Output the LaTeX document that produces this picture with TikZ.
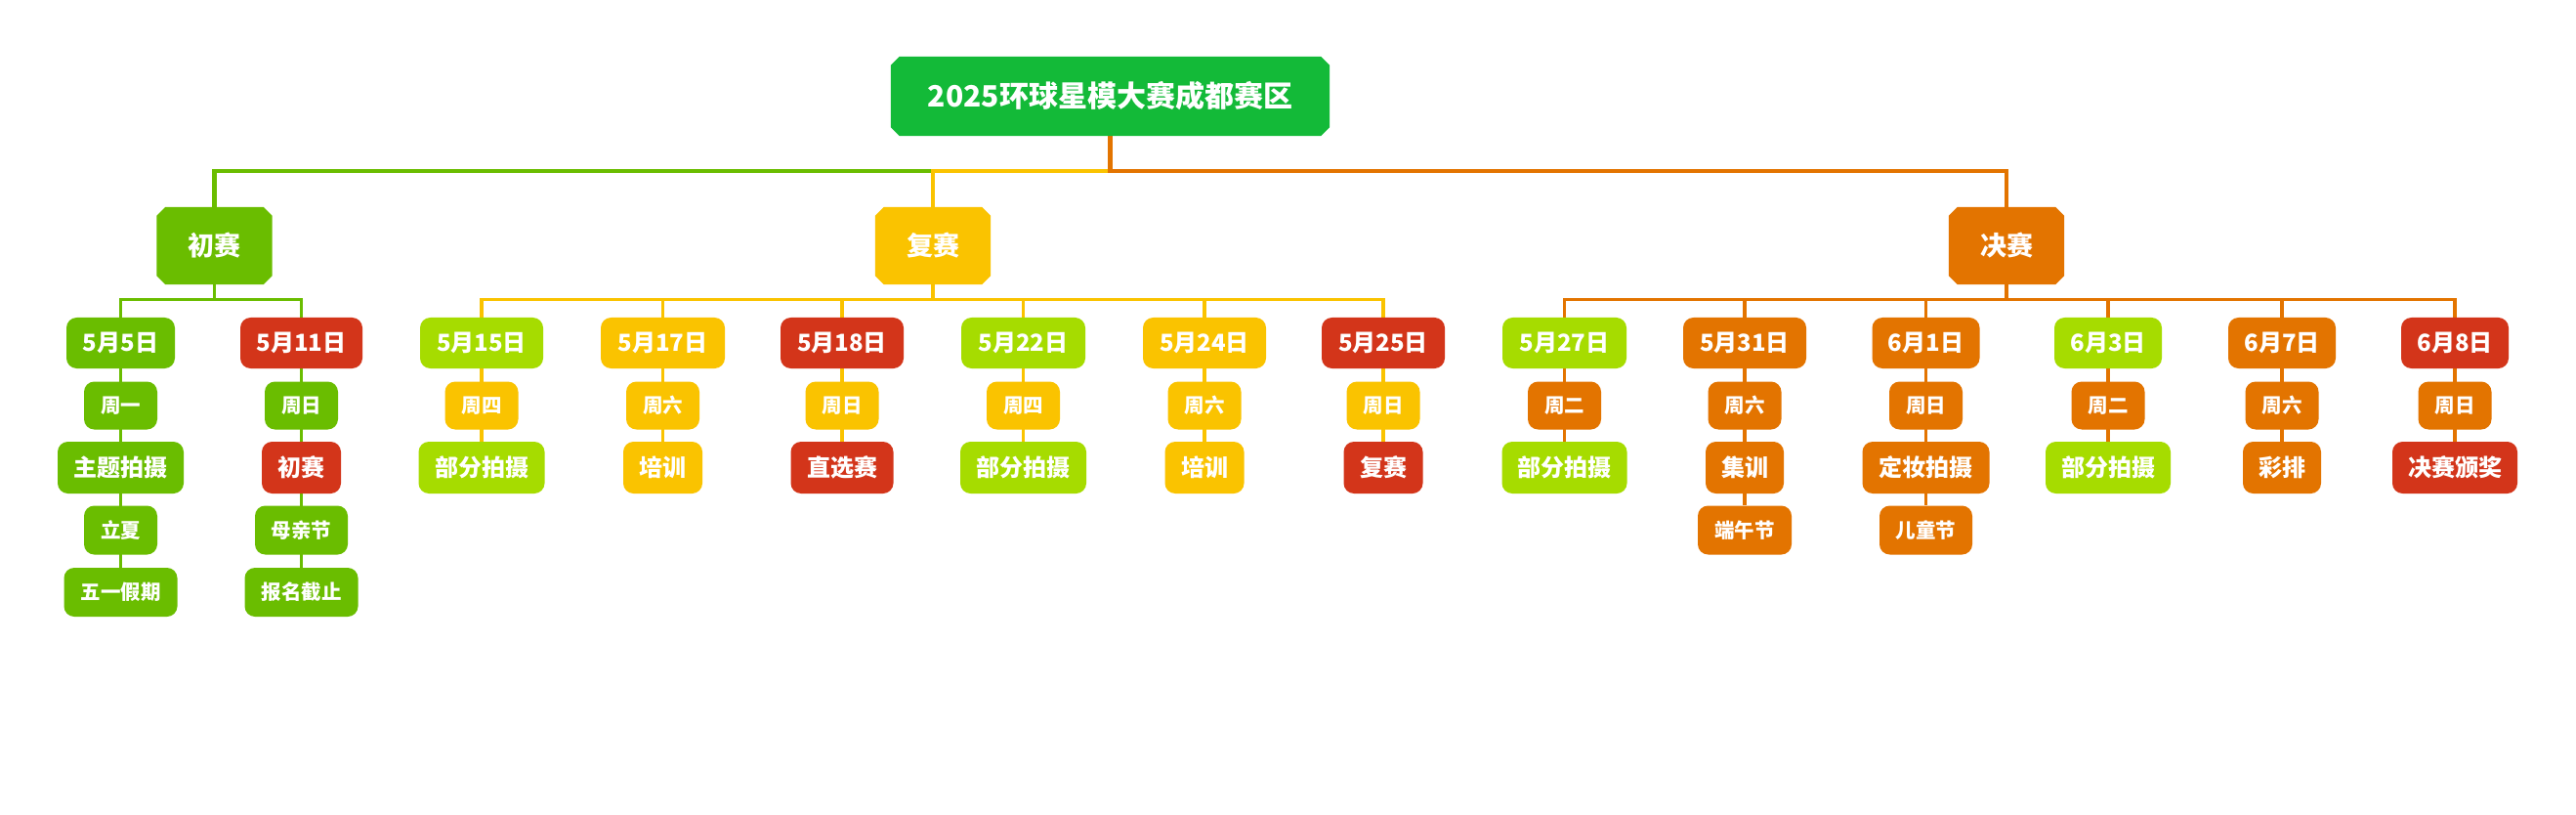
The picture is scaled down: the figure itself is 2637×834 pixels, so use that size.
\documentclass[tikz,border=0pt]{standalone}
\usepackage{fontspec}
\newfontfamily\cjk{Noto Sans CJK SC}
\usetikzlibrary{backgrounds}
\definecolor{cRoot}{HTML}{13BA38}
\definecolor{cG}{HTML}{6ABD00}
\definecolor{cY}{HTML}{FAC300}
\definecolor{cO}{HTML}{E37400}
\definecolor{cR}{HTML}{D3351A}
\definecolor{cL}{HTML}{A6DC00}
\newcommand\chamf[3]{%
  \fill[#2] ([xshift=#3]#1.north west) -- ([xshift=-#3]#1.north east) -- ([yshift=-#3]#1.north east)
   -- ([yshift=#3]#1.south east) -- ([xshift=-#3]#1.south east) -- ([xshift=#3]#1.south west)
   -- ([yshift=#3]#1.south west) -- ([yshift=-#3]#1.north west) -- cycle;}
\tikzset{
 bx/.style={rounded corners=10.5pt, inner sep=0pt, text=white, align=center},
 dt/.style={bx, minimum height=52pt, font=\cjk\bfseries\fontsize{24}{24}\selectfont},
 dw/.style={bx, minimum height=49pt, minimum width=75pt, font=\cjk\bfseries\fontsize{20.5}{20.5}\selectfont},
 ac/.style={bx, minimum height=53pt, font=\cjk\bfseries\fontsize{24}{24}\selectfont},
 nt/.style={bx, minimum height=50pt, font=\cjk\bfseries\fontsize{20.5}{20.5}\selectfont},
 lv/.style={inner sep=0pt, text=white, minimum width=118pt, minimum height=79pt, font=\cjk\bfseries\fontsize{27}{27}\selectfont},
 subline/.style={line width=3.2pt, line cap=butt, line join=miter},
 mainline/.style={line width=4.5pt, line cap=butt, line join=miter},
}
\begin{document}
\begin{tikzpicture}[x=1pt,y=-1pt]
\useasboundingbox (0,0) rectangle (2637,834);
% root and level 1
\node[inner sep=0pt, text=white, minimum width=449pt, minimum height=81pt, font=\cjk\bfseries\fontsize{30}{30}\selectfont] (root) at (1136.5,98.5) {2025环球星模大赛成都赛区};
\node[lv] (chu) at (219.5,251.5) {初赛};
\node[lv] (fu) at (955,251.5) {复赛};
\node[lv] (jue) at (2054,251.5) {决赛};
% ---- 初赛 branch
\node[dt, fill=cG, minimum width=111pt] (a1d) at (123.5,351) {5月5日};
\node[dw, fill=cG] (a1w) at (123.5,415) {周一};
\node[ac, fill=cG, minimum width=129pt] (a1x) at (123.5,478.5) {主题拍摄};
\node[nt, fill=cG, minimum width=75pt] (a1y) at (123.5,542.5) {立夏};
\node[nt, fill=cG, minimum width=116pt] (a1z) at (123.5,606) {五一假期};
\node[dt, fill=cR, minimum width=125pt] (a2d) at (308.5,351) {5月11日};
\node[dw, fill=cG] (a2w) at (308.5,415) {周日};
\node[ac, fill=cR, minimum width=81pt] (a2x) at (308.5,478.5) {初赛};
\node[nt, fill=cG, minimum width=95pt] (a2y) at (308.5,542.5) {母亲节};
\node[nt, fill=cG, minimum width=116pt] (a2z) at (308.5,606) {报名截止};
% ---- 复赛 branch
\node[dt, fill=cL, minimum width=126pt] (b1d) at (493,351) {5月15日};
\node[dw, fill=cY] (b1w) at (493,415) {周四};
\node[ac, fill=cL, minimum width=129pt] (b1x) at (493,478.5) {部分拍摄};
\node[dt, fill=cY, minimum width=127pt] (b2d) at (678.5,351) {5月17日};
\node[dw, fill=cY] (b2w) at (678.5,415) {周六};
\node[ac, fill=cY, minimum width=81pt] (b2x) at (678.5,478.5) {培训};
\node[dt, fill=cR, minimum width=126pt] (b3d) at (862,351) {5月18日};
\node[dw, fill=cY] (b3w) at (862,415) {周日};
\node[ac, fill=cR, minimum width=105pt] (b3x) at (862,478.5) {直选赛};
\node[dt, fill=cL, minimum width=127pt] (b4d) at (1047.5,351) {5月22日};
\node[dw, fill=cY] (b4w) at (1047.5,415) {周四};
\node[ac, fill=cL, minimum width=129pt] (b4x) at (1047.5,478.5) {部分拍摄};
\node[dt, fill=cY, minimum width=126pt] (b5d) at (1233,351) {5月24日};
\node[dw, fill=cY] (b5w) at (1233,415) {周六};
\node[ac, fill=cY, minimum width=81pt] (b5x) at (1233,478.5) {培训};
\node[dt, fill=cR, minimum width=126pt] (b6d) at (1416,351) {5月25日};
\node[dw, fill=cY] (b6w) at (1416,415) {周日};
\node[ac, fill=cR, minimum width=81pt] (b6x) at (1416,478.5) {复赛};
% ---- 决赛 branch
\node[dt, fill=cL, minimum width=127pt] (c1d) at (1601.5,351) {5月27日};
\node[dw, fill=cO] (c1w) at (1601.5,415) {周二};
\node[ac, fill=cL, minimum width=128pt] (c1x) at (1601.5,478.5) {部分拍摄};
\node[dt, fill=cO, minimum width=126pt] (c2d) at (1786,351) {5月31日};
\node[dw, fill=cO] (c2w) at (1786,415) {周六};
\node[ac, fill=cO, minimum width=80pt] (c2x) at (1786,478.5) {集训};
\node[nt, fill=cO, minimum width=96pt] (c2y) at (1786,542.5) {端午节};
\node[dt, fill=cO, minimum width=110pt] (c3d) at (1971.5,351) {6月1日};
\node[dw, fill=cO] (c3w) at (1971.5,415) {周日};
\node[ac, fill=cO, minimum width=130pt] (c3x) at (1971.5,478.5) {定妆拍摄};
\node[nt, fill=cO, minimum width=95pt] (c3y) at (1971.5,542.5) {儿童节};
\node[dt, fill=cL, minimum width=110pt] (c4d) at (2158,351) {6月3日};
\node[dw, fill=cO] (c4w) at (2158,415) {周二};
\node[ac, fill=cL, minimum width=128pt] (c4x) at (2158,478.5) {部分拍摄};
\node[dt, fill=cO, minimum width=110pt] (c5d) at (2336,351) {6月7日};
\node[dw, fill=cO] (c5w) at (2336,415) {周六};
\node[ac, fill=cO, minimum width=80pt] (c5x) at (2336,478.5) {彩排};
\node[dt, fill=cR, minimum width=110pt] (c6d) at (2513,351) {6月8日};
\node[dw, fill=cO] (c6w) at (2513,415) {周日};
\node[ac, fill=cR, minimum width=128pt] (c6x) at (2513,478.5) {决赛颁奖};
\begin{scope}[on background layer]
\fill[white] (0,0) rectangle (2637,834);
% root connectors
\draw[mainline,cG] (root.south) -- ++(0,36) -| (chu.north);
\draw[mainline,cY] (root.south) -- ++(0,36) -| (fu.north);
\draw[mainline,cO] (root.south) -- ++(0,36) -| (jue.north);
% 初赛
\foreach \c in {a1,a2} {\draw[subline,cG] (chu.south) -- ++(0,15.5) -| (\c d.north);
  \draw[subline,cG] (\c d.south) -- (\c z.north);}
% 复赛
\foreach \c in {b1,b2,b3,b4,b5,b6} {\draw[subline,cY] (fu.south) -- ++(0,15.5) -| (\c d.north);
  \draw[subline,cY] (\c d.south) -- (\c x.north);}
% 决赛
\foreach \c in {c1,c2,c3,c4,c5,c6} {\draw[subline,cO] (jue.south) -- ++(0,15.5) -| (\c d.north);
  \draw[subline,cO] (\c d.south) -- (\c x.north);}
\draw[subline,cO] (c2x.south) -- (c2y.north);
\draw[subline,cO] (c3x.south) -- (c3y.north);
% chamfered boxes
\chamf{root}{cRoot}{9pt}
\chamf{chu}{cG}{9pt}
\chamf{fu}{cY}{9pt}
\chamf{jue}{cO}{9pt}
\end{scope}
\end{tikzpicture}
\end{document}
